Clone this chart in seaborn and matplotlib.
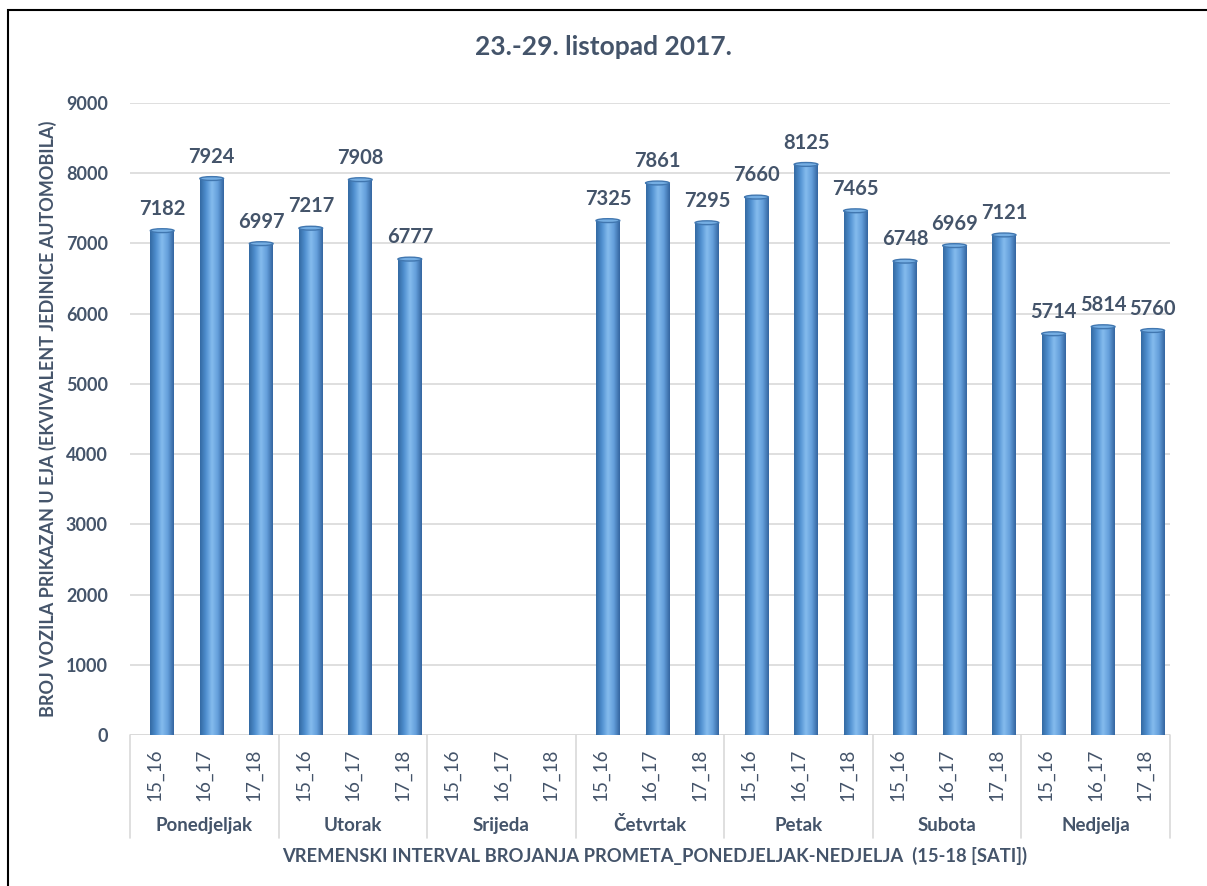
import numpy as np
import pandas as pd
import matplotlib
matplotlib.use('Agg')
import matplotlib.pyplot as plt
import seaborn as sns
from matplotlib.patches import Ellipse, Rectangle
from matplotlib.colors import LinearSegmentedColormap

# Data
days = ['Ponedjeljak', 'Utorak', 'Srijeda', 'Četvrtak', 'Petak', 'Subota', 'Nedjelja']
intervals = ['15_16', '16_17', '17_18']
values = [7182, 7924, 6997,
          7217, 7908, 6777,
          np.nan, np.nan, np.nan,
          7325, 7861, 7295,
          7660, 8125, 7465,
          6748, 6969, 7121,
          5714, 5814, 5760]

labels = [iv for d in days for iv in intervals]
df = pd.DataFrame({'pos': [str(i) for i in range(len(values))], 'val': values})

txt = '#44546A'
sns.set_theme(style='white')
plt.rcParams['font.family'] = ['Lato', 'DejaVu Sans']

fig = plt.figure(figsize=(12.07, 8.86), dpi=100)
ax = fig.add_axes([130 / 1207, 151 / 886, 1040 / 1207, 632 / 886])

off = 0.65  # bars sit a bit right of the group boxes (3D depth)
sns.barplot(data=df, x='pos', y='val', color='#5B9BD5', width=0.48, ax=ax,
            saturation=1, edgecolor='none')

# cylinder look
cmap = LinearSegmentedColormap.from_list('cyl', ['#336AA3', '#5090D0', '#85BCEE', '#649FDB', '#3465A0'])
grad = np.linspace(0, 1, 64).reshape(1, -1)
for p in ax.patches:
    h = p.get_height()
    if not np.isfinite(h) or h <= 0:
        continue
    x0, w = p.get_x(), p.get_width()
    im = ax.imshow(grad, cmap=cmap, aspect='auto', extent=[x0, x0 + w, 0, h],
                   zorder=3, interpolation='bicubic')
    im.set_clip_path(p)
    ax.add_patch(Ellipse((x0 + w / 2, h), w, 55, facecolor='#75AEE3',
                         edgecolor='#4177B0', lw=1, zorder=4))
    ax.add_patch(Ellipse((x0 + w / 2, 0), w, 55, facecolor='#3C78B8',
                         edgecolor='none', zorder=2))
    ax.text(x0 + w / 2, h + 170, f'{int(h)}', ha='center', va='bottom',
            fontsize=14.5, fontweight='bold', color=txt, zorder=5)
ax.set_ylim(0, 9000)
ax.set_xlim(-off, len(values) - off)
ax.set_aspect('auto')

# grid
ax.set_yticks(range(0, 9001, 1000))
ax.yaxis.grid(True, color='#D9D9D9', lw=1.2)
ax.set_axisbelow(True)
for s in ax.spines.values():
    s.set_visible(False)
ax.axhline(0, color='#D9D9D9', lw=1.2, zorder=1)
ax.tick_params(axis='y', length=0, pad=16, labelsize=13, labelcolor=txt)
for t in ax.get_yticklabels():
    t.set_fontweight('bold')

# category labels centred in the group boxes
ax.set_xticks([i + 0.5 - off for i in range(len(labels))])
ax.set_xticklabels(labels, rotation=90, fontsize=13.5, color=txt)
ax.tick_params(axis='x', length=0, pad=10)
ax.set_xlabel('')
ax.set_ylabel('BROJ VOZILA PRIKAZAN U EJA (EKVIVALENT JEDINICE AUTOMOBILA)',
              fontsize=13, fontweight='bold', color=txt, labelpad=6)

# day groups with separators
for i, d in enumerate(days):
    ax.text(i * 3 + 1.5 - off, -0.143, d, transform=ax.get_xaxis_transform(), ha='center',
            va='center', fontsize=13.5, fontweight='bold', color=txt)
for k in range(len(days) + 1):
    ax.plot([k * 3 - off, k * 3 - off], [0, -0.163], transform=ax.get_xaxis_transform(),
            color='#D9D9D9', lw=1.2, clip_on=False)

fig.text(0.5, 1 - 47 / 886, '23.-29. listopad 2017.', ha='center', va='center',
         fontsize=19, fontweight='bold', color=txt)
fig.text(655 / 1207, 1 - 856 / 886,
         'VREMENSKI INTERVAL BROJANJA PROMETA_PONEDJELJAK-NEDJELJA  (15-18 [SATI])',
         ha='center', va='center', fontsize=13.2, fontweight='bold', color=txt)

# outer frame
fig.add_artist(Rectangle((8 / 1207, -0.1), 1.2, 1 - 10 / 886 + 0.1, transform=fig.transFigure,
                         fill=False, edgecolor='black', lw=1.5))

fig.savefig('out.png', dpi=100, facecolor='white')
